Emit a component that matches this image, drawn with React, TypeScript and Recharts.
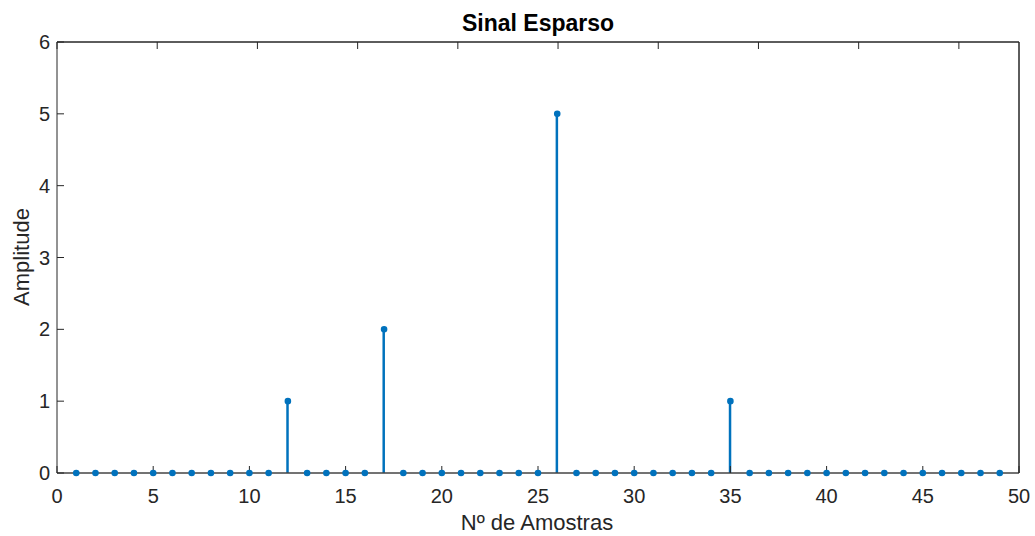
import { ComposedChart, Bar, Scatter, XAxis, YAxis, ReferenceLine } from "recharts";

const samples = Array.from({ length: 49 }, (_, i) => i + 1);
const spikes: Record<number, number> = { 12: 1, 17: 2, 26: 5, 35: 1 };
const amplitude = samples.map((n) => spikes[n] ?? 0);
const xTicks = [0, 5, 10, 15, 20, 25, 30, 35, 40, 45, 50];
const yTicks = [0, 1, 2, 3, 4, 5, 6];

const data = samples.map((n, i) => ({ n, amp: amplitude[i] }));

const BLUE = "#0072BD";
const AXIS = "#262626";
const FONT = "'Liberation Sans', Arial, Helvetica, sans-serif";

function Marker(props: any) {
  const { cx, cy } = props;
  if (cx == null || cy == null) return null;
  return <circle cx={cx} cy={cy} r={2.5} fill={BLUE} stroke={BLUE} strokeWidth={1.6} />;
}

const NoLabel = () => <g />;

export default function App() {
  const tick = { fontSize: 20, fill: AXIS, fontFamily: FONT };
  return (
    <div style={{ position: "absolute", left: 0, top: 0, background: "#fff" }}>
      <ComposedChart
        width={1035}
        height={536}
        data={data}
        margin={{ top: 41, right: 15, bottom: 33, left: 17 }}
      >
        <text x={538} y={31} textAnchor="middle" fontFamily={FONT} fontSize={23} fontWeight="bold" fill="#000">
          Sinal Esparso
        </text>
        <text x={537} y={530} textAnchor="middle" fontFamily={FONT} fontSize={22} fill={AXIS}>
          Nº de Amostras
        </text>
        <text
          x={29}
          y={257}
          transform="rotate(-90 29 257)"
          textAnchor="middle"
          fontFamily={FONT}
          fontSize={22}
          fill={AXIS}
        >
          Amplitude
        </text>
        <XAxis
          xAxisId="b"
          dataKey="n"
          type="number"
          domain={[0, 50]}
          ticks={xTicks}
          height={30}
          allowDataOverflow
          stroke={AXIS}
          tickSize={-7}
          tickMargin={23}
          tick={tick}
        />
        <XAxis
          xAxisId="t"
          orientation="top"
          type="number"
          domain={[0, 50]}
          ticks={xTicks}
          height={1}
          stroke={AXIS}
          tickSize={-7}
          tick={NoLabel}
        />
        <YAxis
          yAxisId="l"
          type="number"
          domain={[0, 6]}
          ticks={yTicks}
          width={40}
          stroke={AXIS}
          tickSize={-7}
          tickMargin={14}
          tick={tick}
        />
        <YAxis
          yAxisId="r"
          orientation="right"
          type="number"
          domain={[0, 6]}
          ticks={yTicks}
          width={1}
          stroke={AXIS}
          tickSize={-7}
          tick={NoLabel}
        />
        <ReferenceLine xAxisId="b" yAxisId="l" y={6} stroke={AXIS} strokeWidth={1} />
        <ReferenceLine xAxisId="b" yAxisId="l" x={50} stroke={AXIS} strokeWidth={1} />
        <Bar xAxisId="b" yAxisId="l" dataKey="amp" fill={BLUE} barSize={2.5} isAnimationActive={false} />
        <ReferenceLine xAxisId="b" yAxisId="l" y={0} stroke="#808080" strokeWidth={1.2} />
        <Scatter xAxisId="b" yAxisId="l" dataKey="amp" shape={<Marker />} isAnimationActive={false} />
      </ComposedChart>
    </div>
  );
}
